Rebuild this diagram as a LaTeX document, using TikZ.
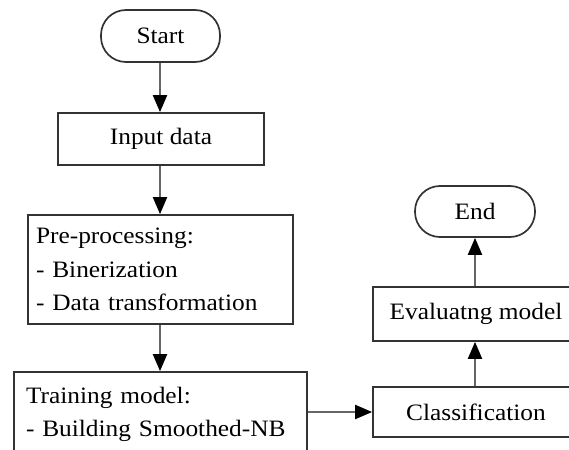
\documentclass[tikz,border=0pt]{standalone}
\usepackage{fontspec}
\setmainfont{Liberation Serif}[FakeStretch=1.08]
\usetikzlibrary{arrows.meta}
\begin{document}
\begin{tikzpicture}[x=1pt,y=-1pt,
  box/.style={draw=black!80, line width=1.7pt, rectangle, inner sep=0pt, font=\fontsize{23.5}{33.5}\selectfont},
  term/.style={box, rounded corners=25pt},
  conn/.style={draw=black!60, line width=2pt, -{Triangle[length=17pt,width=14pt,fill=black,color=black]}}]
\useasboundingbox (0,0) rectangle (569,449);
\clip (0,0) rectangle (569,449);
\node[term, minimum width=119pt, minimum height=52pt] (start) at (160.5,36) {Start};
\node[box, minimum width=206pt, minimum height=52pt] (input) at (161,139) {Input data};
\node[box, minimum width=265pt, minimum height=109pt, text width=249pt, align=left] (pre) at (160.5,269.5) {Pre-processing:\\- Binerization\\- Data transformation};
\node[box, minimum width=293pt, minimum height=85pt, text width=269pt, align=left] (train) at (160.5,414.5) {Training model:\\- Building Smoothed-NB};
\node[box, minimum width=206pt, minimum height=50pt] (class) at (476,412) {Classification};
\node[box, minimum width=206pt, minimum height=54pt] (eval) at (476,314) {Evaluatng model};
\node[term, minimum width=120pt, minimum height=51pt] (end) at (475,211.5) {End};
\draw[conn] (start.south -| 160,0) -- (input.north -| 160,0);
\draw[conn] (input.south -| 160,0) -- (pre.north -| 160,0);
\draw[conn] (pre.south -| 160,0) -- (train.north -| 160,0);
\draw[conn] (train.east |- 0,412) -- (class.west |- 0,412);
\draw[conn] (class.north -| 475,0) -- (eval.south -| 475,0);
\draw[conn] (eval.north -| 475,0) -- (end.south -| 475,0);
\end{tikzpicture}
\end{document}
